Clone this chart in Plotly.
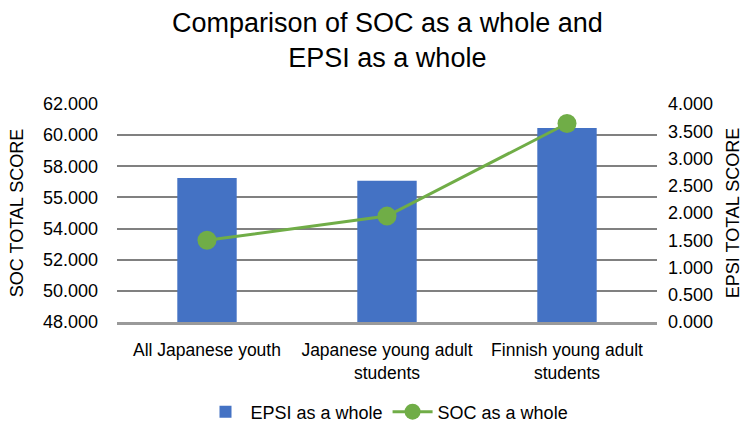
import plotly.graph_objects as go

# Groups compared
categories = ["All Japanese youth", "Japanese young adult<br>students", "Finnish young adult<br>students"]

# EPSI as a whole (right axis, bars)
epsi_values = [2.64, 2.59, 3.56]

# SOC as a whole (left axis, line)
soc_values = [53.25, 54.80, 60.75]

# Left axis ticks
soc_tickvals = [48, 50, 52, 54, 56, 58, 60, 62]
soc_ticktext = ["48.000", "50.000", "52.000", "54.000", "55.000", "58.000", "60.000", "62.000"]

BLUE = "#4472C4"
GREEN = "#70AD47"
FONT = "Liberation Sans, Arial, sans-serif"

W, H = 746, 425
M_T, M_B = 104, 103
PLOT_H = H - M_T - M_B

fig = go.Figure()

fig.add_trace(go.Bar(
    x=categories, y=epsi_values, name="EPSI as a whole",
    marker=dict(color=BLUE, line=dict(width=0)),
    width=0.33, yaxis="y",
))

fig.add_trace(go.Scatter(
    x=categories, y=soc_values, name="SOC as a whole",
    mode="lines+markers",
    line=dict(color=GREEN, width=3),
    marker=dict(color=GREEN, size=19),
    yaxis="y2",
))

fig.update_layout(
    width=W, height=H,
    margin=dict(l=117, r=89, t=M_T, b=M_B, autoexpand=False),
    paper_bgcolor="white", plot_bgcolor="white",
    font=dict(family=FONT, size=18, color="#000000"),
    showlegend=True,
    legend=dict(
        orientation="h", x=0.5, xanchor="center",
        yref="container", y=1 - 412 / H, yanchor="middle",
        font=dict(size=18), traceorder="normal",
        itemwidth=40,
    ),
    bargap=0.67,
    xaxis=dict(
        type="category", automargin=False,
        showgrid=False,
        showline=True, linecolor="#9a9a9a", linewidth=3,
        ticks="", tickfont=dict(size=17.5),
        ticklabelstandoff=10,
    ),
    yaxis=dict(
        title=dict(text="EPSI TOTAL SCORE", font=dict(size=18), standoff=14),
        side="right", automargin=False,
        range=[0, 4], dtick=0.5, tick0=0, tickformat=".3f",
        showgrid=False, zeroline=False, showline=False,
        ticks="", ticklabelstandoff=10,
    ),
    yaxis2=dict(
        title=dict(text="SOC TOTAL SCORE", font=dict(size=18), standoff=14),
        side="left", overlaying="y", automargin=False,
        range=[48, 62],
        tickmode="array", tickvals=soc_tickvals, ticktext=soc_ticktext,
        showgrid=True, gridcolor="#808080", gridwidth=1.5,
        zeroline=False, showline=False,
        ticks="", ticklabelstandoff=18,
    ),
    annotations=[dict(
        text="Comparison of SOC as a whole and<br>EPSI as a whole",
        xref="paper", yref="paper", x=0.5, y=(H - M_B - 40) / PLOT_H,
        xanchor="center", yanchor="middle", showarrow=False,
        font=dict(size=27, color="#000000"),
    )],
)

fig.write_html("out.html")
